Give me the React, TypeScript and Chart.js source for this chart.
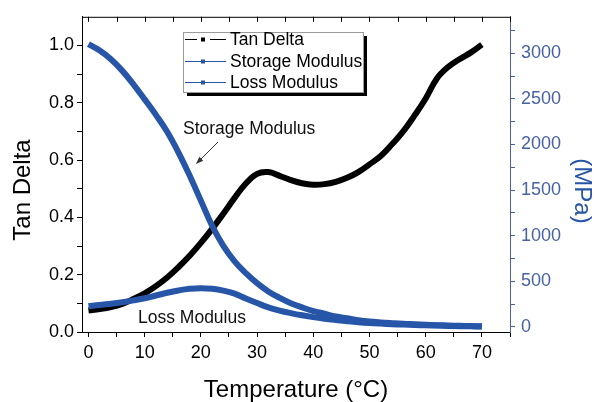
import React, { useEffect, useRef } from 'react';
import { Chart, registerables } from 'chart.js';

Chart.register(...registerables);

const temperatures = [0, 2, 4, 6, 8, 10, 12, 14, 16, 18, 20, 22, 24, 26, 28, 30, 32, 34, 36, 38, 40, 42, 44, 46, 48, 50, 52, 54, 56, 58, 60, 62, 64, 66, 68, 70];
const tanDelta = [0.075, 0.080, 0.087, 0.098, 0.115, 0.135, 0.160, 0.190, 0.226, 0.266, 0.311, 0.360, 0.413, 0.468, 0.518, 0.552, 0.558, 0.545, 0.530, 0.519, 0.514, 0.516, 0.524, 0.538, 0.558, 0.585, 0.614, 0.655, 0.700, 0.755, 0.815, 0.885, 0.925, 0.952, 0.975, 1.003];
const storageModulus = [3100, 3030, 2935, 2810, 2660, 2495, 2325, 2140, 1915, 1660, 1385, 1110, 890, 720, 590, 480, 390, 320, 260, 215, 175, 145, 115, 95, 75, 60, 50, 42, 35, 30, 25, 20, 16, 13, 10, 8];
const lossModulus = [230, 240, 255, 272, 292, 315, 345, 375, 400, 418, 425, 418, 398, 365, 312, 262, 215, 180, 152, 128, 108, 90, 76, 64, 53, 44, 37, 31, 26, 22, 18, 15, 12, 9, 7, 5];

const seriesNames = ['Tan Delta', 'Storage Modulus', 'Loss Modulus'];
const xMajorTicks = [0, 10, 20, 30, 40, 50, 60, 70];
const xMinorTicks = [5, 15, 25, 35, 45, 55, 65, 75];
const leftMajorTicks = [0, 0.2, 0.4, 0.6, 0.8, 1.0];
const leftMinorTicks = [0.1, 0.3, 0.5, 0.7, 0.9];
const rightMajorTicks = [0, 500, 1000, 1500, 2000, 2500, 3000];
const rightMinorTicks = [250, 750, 1250, 1750, 2250, 2750, 3250];
const xTitle = 'Temperature (°C)';
const leftTitle = 'Tan Delta';
const rightTitle = '(MPa)';
const storageNote = 'Storage Modulus';
const lossNote = 'Loss Modulus';

const BLUE = '#2755a8';
const AXIS_BLUE = '#4862a2';
const FONT = "'Liberation Sans', Arial, sans-serif";

const decorPlugin = {
  id: 'decor',
  afterDraw(chart: any) {
    const ctx = chart.ctx;
    const { left, right, top } = chart.chartArea;
    const xs = chart.scales.x;
    ctx.save();
    ctx.strokeStyle = '#000';
    ctx.lineWidth = 1;
    ctx.beginPath();
    ctx.moveTo(left, top + 0.5);
    ctx.lineTo(right, top + 0.5);
    [...xMajorTicks, ...xMinorTicks].forEach((v) => {
      const px = Math.round(xs.getPixelForValue(v)) + 0.5;
      ctx.moveTo(px, top);
      ctx.lineTo(px, top + 5);
    });
    ctx.stroke();

    ctx.font = `24px ${FONT}`;
    ctx.textAlign = 'center';
    ctx.textBaseline = 'middle';
    ctx.fillStyle = '#000';
    ctx.save();
    ctx.translate(23, 190);
    ctx.rotate(-Math.PI / 2);
    ctx.fillText(leftTitle, 0, 0);
    ctx.restore();
    ctx.save();
    ctx.fillStyle = BLUE;
    ctx.translate(582, 191);
    ctx.rotate(Math.PI / 2);
    ctx.fillText(rightTitle, 0, 0);
    ctx.restore();

    ctx.font = `17.5px ${FONT}`;
    ctx.textAlign = 'left';
    ctx.fillStyle = '#111';
    ctx.fillText(storageNote, 183, 129);
    ctx.fillText(lossNote, 138, 318);
    ctx.strokeStyle = '#333';
    ctx.lineWidth = 1;
    ctx.beginPath();
    ctx.moveTo(218, 142);
    ctx.lineTo(198, 162);
    ctx.stroke();
    ctx.fillStyle = '#333';
    ctx.beginPath();
    const ang = Math.atan2(162 - 142, 198 - 218);
    ctx.moveTo(196, 164);
    ctx.lineTo(196 - 8 * Math.cos(ang - 0.35), 164 - 8 * Math.sin(ang - 0.35));
    ctx.lineTo(196 - 8 * Math.cos(ang + 0.35), 164 - 8 * Math.sin(ang + 0.35));
    ctx.closePath();
    ctx.fill();

    const bx = 183, by = 32, bw = 180, bh = 60;
    ctx.fillStyle = '#000';
    ctx.fillRect(bx + 4, by + 4, bw, bh);
    ctx.fillStyle = '#fff';
    ctx.fillRect(bx, by, bw, bh);
    ctx.strokeStyle = '#9a9a9a';
    ctx.strokeRect(bx + 0.5, by + 0.5, bw, bh);
    const rows = [39, 61, 82];
    const colors = ['#000', BLUE, BLUE];
    ctx.font = `17.5px ${FONT}`;
    ctx.textBaseline = 'middle';
    rows.forEach((ry, i) => {
      ctx.strokeStyle = colors[i];
      ctx.lineWidth = 1;
      ctx.beginPath();
      if (i === 0) {
        ctx.moveTo(185, ry + 0.5);
        ctx.lineTo(197, ry + 0.5);
        ctx.moveTo(210, ry + 0.5);
        ctx.lineTo(226, ry + 0.5);
      } else {
        ctx.moveTo(185, ry + 0.5);
        ctx.lineTo(226, ry + 0.5);
      }
      ctx.stroke();
      ctx.fillStyle = colors[i];
      ctx.fillRect(201, ry - 1.5, 4, 4);
      ctx.fillStyle = '#000';
      ctx.fillText(seriesNames[i], 230, ry + 1);
    });
    ctx.restore();
  },
};

export default function App() {
  const ref = useRef<HTMLCanvasElement>(null);
  useEffect(() => {
    if (!ref.current) return;
    const lineStyle = { borderWidth: 6, pointRadius: 0, tension: 0.4 };
    const chart = new Chart(ref.current, {
      type: 'line',
      data: {
        datasets: [
          {
            label: seriesNames[0],
            data: temperatures.map((t, i) => ({ x: t, y: tanDelta[i] })),
            borderColor: '#000',
            backgroundColor: '#000',
            ...lineStyle,
            yAxisID: 'y',
            order: 3,
          },
          {
            label: seriesNames[1],
            data: temperatures.map((t, i) => ({ x: t, y: storageModulus[i] })),
            borderColor: BLUE,
            backgroundColor: BLUE,
            ...lineStyle,
            yAxisID: 'y1',
            order: 1,
          },
          {
            label: seriesNames[2],
            data: temperatures.map((t, i) => ({ x: t, y: lossModulus[i] })),
            borderColor: BLUE,
            backgroundColor: BLUE,
            ...lineStyle,
            yAxisID: 'y1',
            order: 2,
          },
        ],
      },
      options: {
        responsive: false,
        animation: false,
        devicePixelRatio: 1,
        layout: { padding: { top: 15, left: 0, right: 0, bottom: 0 } },
        plugins: { legend: { display: false }, tooltip: { enabled: false } },
        scales: {
          x: {
            type: 'linear',
            position: 'bottom',
            min: -1.15,
            max: 75,
            afterBuildTicks: (s: any) => {
              s.ticks = [...xMajorTicks, ...xMinorTicks].sort((a, b) => a - b).map((v) => ({ value: v }));
            },
            afterFit: (s: any) => { s.height = 70; },
            ticks: {
              autoSkip: false,
              maxRotation: 0,
              padding: 5,
              color: '#000',
              font: { family: FONT, size: 18 },
              callback: (v: any) => (xMajorTicks.includes(v) ? String(v) : ''),
            },
            grid: { drawOnChartArea: false, drawTicks: true, tickLength: 5, color: '#000' },
            border: { display: true, color: '#000', width: 1 },
            title: { display: true, text: xTitle, color: '#000', font: { family: FONT, size: 24, lineHeight: 1.0 }, padding: { top: 0, bottom: 0 } },
          },
          y: {
            type: 'linear',
            position: 'left',
            min: 0,
            max: 1.1,
            afterBuildTicks: (s: any) => {
              s.ticks = [...leftMajorTicks, ...leftMinorTicks].sort((a, b) => a - b).map((v) => ({ value: v }));
            },
            afterFit: (s: any) => { s.width = 82; },
            ticks: {
              autoSkip: false,
              padding: 3,
              color: '#000',
              font: { family: FONT, size: 18 },
              callback: (v: any) => (leftMajorTicks.some((m) => Math.abs(m - v) < 1e-9) ? Number(v).toFixed(1) : ''),
            },
            grid: { drawOnChartArea: false, drawTicks: true, tickLength: 5, color: '#000' },
            border: { display: true, color: '#000', width: 1 },
          },
          y1: {
            type: 'linear',
            position: 'right',
            min: -55,
            max: 3400,
            afterBuildTicks: (s: any) => {
              s.ticks = [...rightMajorTicks, ...rightMinorTicks].sort((a, b) => a - b).map((v) => ({ value: v }));
            },
            afterFit: (s: any) => { s.width = 85; },
            ticks: {
              autoSkip: false,
              padding: 6,
              color: AXIS_BLUE,
              font: { family: FONT, size: 18 },
              callback: (v: any) => (rightMajorTicks.includes(v) ? String(v) : ''),
            },
            grid: { drawOnChartArea: false, drawTicks: true, tickLength: 5, color: AXIS_BLUE },
            border: { display: true, color: AXIS_BLUE, width: 1 },
          },
        },
      },
      plugins: [decorPlugin],
    } as any);
    return () => chart.destroy();
  }, []);
  return (
    <div style={{ position: 'absolute', left: 0, top: 0, width: 595, height: 402, background: '#fff' }}>
      <canvas ref={ref} width={595} height={402} />
    </div>
  );
}
